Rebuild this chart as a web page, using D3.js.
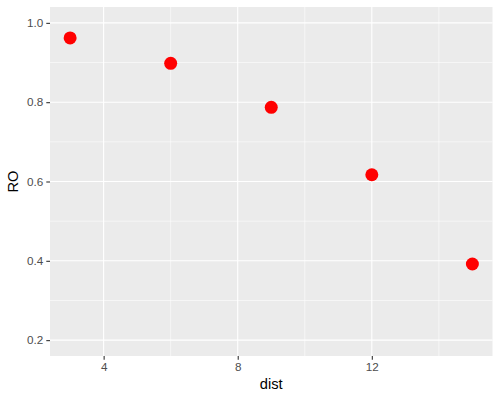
<!DOCTYPE html>
<html>
<head>
<meta charset="utf-8">
<script src="https://cdn.jsdelivr.net/npm/d3@7"></script>
<style>
  body { margin: 0; background: #fff; }
  text { font-family: "Liberation Sans", Arial, sans-serif; }
</style>
</head>
<body>
<svg width="500" height="400"></svg>
<script>
const dist = [3, 6, 9, 12, 15];
const ro = [0.962, 0.898, 0.787, 0.617, 0.392];
const xTicks = [4, 8, 12];
const xMinor = [6, 10, 14];
const yTicks = [0.2, 0.4, 0.6, 0.8, 1.0];
const yMinor = [0.3, 0.5, 0.7, 0.9];

const svg = d3.select("svg");
const margin = { left: 50, right: 7.5, top: 7, bottom: 44 };
const width = 500 - margin.left - margin.right;
const height = 400 - margin.top - margin.bottom;

const x = d3.scaleLinear().domain([2.4, 15.6]).range([0, width]);
const y = d3.scaleLinear().domain([0.16, 1.04]).range([height, 0]);

const g = svg.append("g")
  .attr("transform", `translate(${margin.left}, ${margin.top})`);

g.append("rect")
  .attr("width", width)
  .attr("height", height)
  .attr("fill", "#EBEBEB");

// minor grid
g.selectAll("line.xminor")
  .data(xMinor)
  .join("line")
  .attr("x1", d => x(d)).attr("x2", d => x(d))
  .attr("y1", 0).attr("y2", height)
  .attr("stroke", "#fff").attr("stroke-width", 0.55);

g.selectAll("line.yminor")
  .data(yMinor)
  .join("line")
  .attr("y1", d => y(d)).attr("y2", d => y(d))
  .attr("x1", 0).attr("x2", width)
  .attr("stroke", "#fff").attr("stroke-width", 0.55);

// major grid
g.selectAll("line.xmajor")
  .data(xTicks)
  .join("line")
  .attr("x1", d => x(d)).attr("x2", d => x(d))
  .attr("y1", 0).attr("y2", height)
  .attr("stroke", "#fff").attr("stroke-width", 1.1);

g.selectAll("line.ymajor")
  .data(yTicks)
  .join("line")
  .attr("y1", d => y(d)).attr("y2", d => y(d))
  .attr("x1", 0).attr("x2", width)
  .attr("stroke", "#fff").attr("stroke-width", 1.1);

// axes
const xAxis = g.append("g")
  .attr("transform", `translate(0, ${height})`)
  .call(d3.axisBottom(x).tickValues(xTicks).tickSize(3.7).tickPadding(3).tickFormat(d3.format("d")));

const yAxis = g.append("g")
  .call(d3.axisLeft(y).tickValues(yTicks).tickSize(3.7).tickPadding(3).tickFormat(d3.format(".1f")));

[xAxis, yAxis].forEach(a => {
  a.select(".domain").remove();
  a.selectAll(".tick line").attr("stroke", "#333333").attr("stroke-width", 1.1);
  a.selectAll(".tick text")
    .attr("fill", "#4D4D4D")
    .attr("font-size", 11.7)
    .attr("font-family", "Liberation Sans, Arial, sans-serif");
});

// points
g.selectAll("circle")
  .data(dist.map((d, i) => ({ dist: d, ro: ro[i] })))
  .join("circle")
  .attr("cx", d => x(d.dist))
  .attr("cy", d => y(d.ro))
  .attr("r", 6.5)
  .attr("fill", "#FF0000");

// axis titles
svg.append("text")
  .attr("x", margin.left + width / 2)
  .attr("y", 389)
  .attr("text-anchor", "middle")
  .attr("font-size", 14.7)
  .attr("fill", "#000")
  .text("dist");

svg.append("text")
  .attr("transform", `translate(18, ${margin.top + height / 2}) rotate(-90)`)
  .attr("text-anchor", "middle")
  .attr("font-size", 14.7)
  .attr("fill", "#000")
  .text("RO");
</script>
</body>
</html>
